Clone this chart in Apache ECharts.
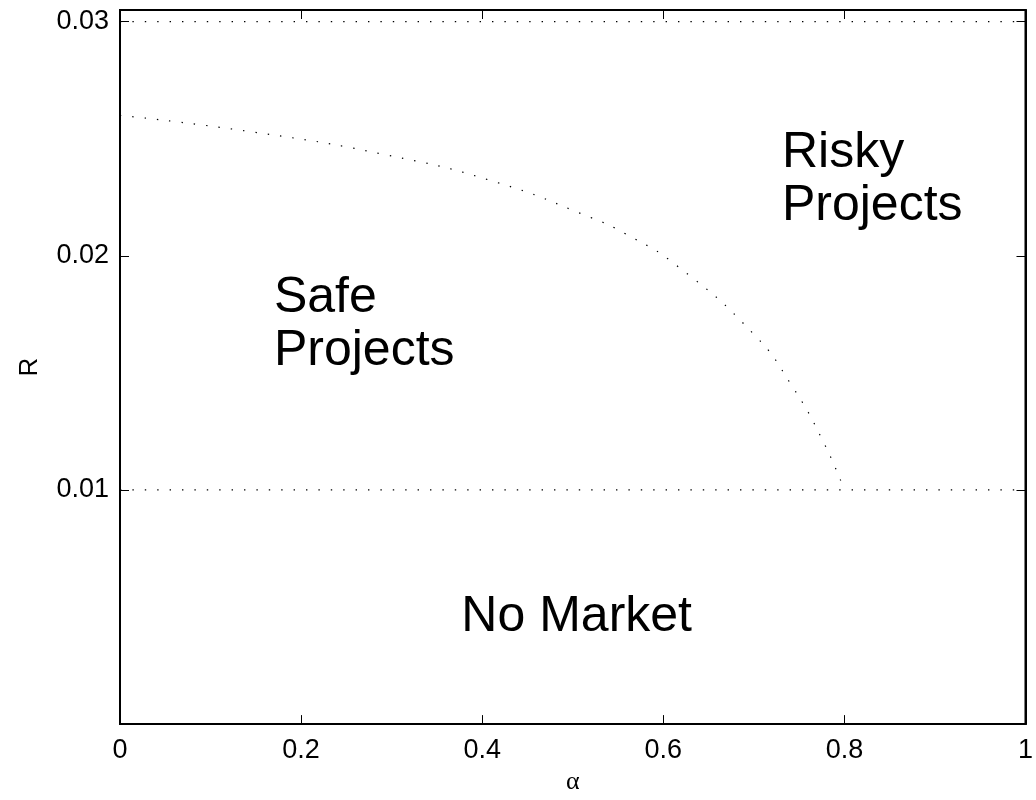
<!DOCTYPE html>
<html>
<head>
<meta charset="utf-8">
<script src="https://cdn.jsdelivr.net/npm/echarts@6/dist/echarts.min.js"></script>
<style>
  html, body { margin: 0; padding: 0; background: #fff; }
  #main { width: 1036px; height: 800px; }
</style>
</head>
<body>
<div id="main"></div>
<script>
// boundary between safe and risky regions
const boundaryAlpha = [0, 0.145, 0.293, 0.416, 0.519, 0.557, 0.615, 0.701, 0.742, 0.776, 0.8];
const boundaryR = [0.0260, 0.0253, 0.02432, 0.02314, 0.02165, 0.02097, 0.01958, 0.01661, 0.01445, 0.01212, 0.0100];
// horizontal dotted lines
const upperLineR = 0.03;
const lowerLineR = 0.01;
const lineAlpha = [0, 1];
// region labels: [alpha, R, text]
const regionLabels = [
  [0.731, 0.02327, 'Risky\nProjects'],
  [0.170, 0.01705, 'Safe\nProjects'],
  [0.377, 0.00458, 'No Market']
];
const yTickLabels = ['0.01', '0.02', '0.03'];

const dotted = { color: '#000', width: 1.2, type: [1.4, 11] };
const font = '"Liberation Sans", Arial, sans-serif';

const chart = echarts.init(document.getElementById('main'));

const yLabel = v => {
  const s = v.toFixed(2);
  return (yTickLabels.includes(s) && Math.abs(v - parseFloat(s)) < 1e-9) ? s : '';
};

const xBase = {
  type: 'value', min: 0, max: 1, interval: 0.2,
  axisLine: { show: true, onZero: false, lineStyle: { color: '#000', width: 2 } },
  axisTick: { show: true, inside: true, length: 9, lineStyle: { color: '#000', width: 1 } },
  splitLine: { show: false }
};
const yBase = {
  type: 'value', min: 0, max: 0.0305, interval: 0.01,
  axisLine: { show: true, onZero: false, lineStyle: { color: '#000', width: 2 } },
  axisTick: { show: true, inside: true, length: 9, lineStyle: { color: '#000', width: 1 } },
  splitLine: { show: false }
};

const option = {
  animation: false,
  backgroundColor: '#fff',
  grid: { left: 120, top: 10, right: 4, bottom: 71, show: true, borderColor: '#000', borderWidth: 2 },
  xAxis: [
    Object.assign({}, xBase, {
      position: 'bottom',
      name: 'α', nameLocation: 'middle', nameGap: 36,
      nameTextStyle: { fontFamily: '"Liberation Serif", "Times New Roman", serif', fontSize: 26, color: '#000' },
      axisLabel: { color: '#000', fontFamily: font, fontSize: 27, margin: 13 }
    }),
    Object.assign({}, xBase, { position: 'top', axisLabel: { show: false } })
  ],
  yAxis: [
    Object.assign({}, yBase, {
      position: 'left',
      name: 'R', nameLocation: 'middle', nameGap: 77,
      nameTextStyle: { fontFamily: font, fontSize: 26, color: '#000' },
      axisLabel: { color: '#000', fontFamily: font, fontSize: 27, margin: 11, formatter: yLabel }
    }),
    Object.assign({}, yBase, { position: 'right', axisLabel: { show: false } })
  ],
  series: [
    {
      type: 'line', symbol: 'none', silent: true,
      data: lineAlpha.map(a => [a, upperLineR]),
      lineStyle: dotted
    },
    {
      type: 'line', symbol: 'none', silent: true,
      data: lineAlpha.map(a => [a, lowerLineR]),
      lineStyle: dotted
    },
    {
      type: 'line', symbol: 'none', silent: true,
      smooth: 0.5,
      data: boundaryAlpha.map((a, i) => [a, boundaryR[i]]),
      lineStyle: dotted
    },
    {
      type: 'scatter', symbolSize: 0, silent: true,
      itemStyle: { opacity: 1 },
      data: regionLabels.map(d => ({ value: [d[0], d[1]], name: d[2] })),
      label: {
        show: true, position: [0, 0], align: 'left', verticalAlign: 'middle',
        formatter: p => p.name,
        fontFamily: font, fontSize: 50, lineHeight: 53, color: '#000'
      }
    }
  ]
};
chart.setOption(option);
</script>
</body>
</html>
